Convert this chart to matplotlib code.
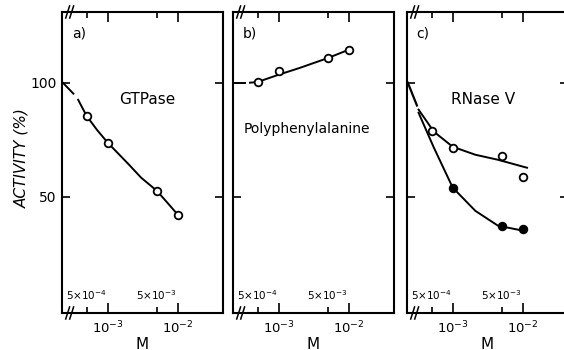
import matplotlib.pyplot as plt
from matplotlib.ticker import FixedLocator, NullFormatter
from matplotlib.transforms import blended_transform_factory

# measured points (concentration M, activity %)
conc = [5e-4, 1e-3, 5e-3, 1e-2]
gtpase = [85.5, 73.7, 52.6, 42]
polyphe = [100.3, 105, 110.8, 114.5]
rnase_open = [79, 71.5, 68, 58.8]
rnase_filled_x = [1e-3, 5e-3, 1e-2]
rnase_filled = [54, 37, 36]

# hand-drawn curves
a_curve_x = [3.8e-4, 5e-4, 7e-4, 1e-3, 2e-3, 3e-3, 5e-3, 7e-3, 1e-2]
a_curve_y = [92.5, 85.5, 79.4, 73.7, 64.1, 58.3, 52.6, 47.5, 42]
b_curve_x = [3.9e-4, 5e-4, 1e-3, 2e-3, 5e-3, 1e-2]
b_curve_y = [100, 100.3, 103.5, 106.5, 110.8, 114.5]
c_open_x = [3.27e-4, 5.4e-4, 1e-3, 2.1e-3, 4.4e-3, 1.14e-2]
c_open_y = [88.2, 78.5, 71.9, 68.4, 66.2, 62.7]
c_fill_x = [3.27e-4, 5.4e-4, 1e-3, 2.1e-3, 4.4e-3, 1e-2]
c_fill_y = [86.8, 71.5, 54, 43.8, 37.3, 35.1]

# control (no salt) segment before the axis break
a_pre_x = [2.3e-4, 3.25e-4]
a_pre_y = [100, 95.2]
b_pre_x = [2.3e-4, 3.3e-4]
b_pre_y = [100, 100]
c_pre_x = [2.3e-4, 3.1e-4]
c_pre_y = [100, 90]

XLIM = (10 ** -3.65, 10 ** -1.36)
YLIM = (-1, 131)

fig = plt.figure(figsize=(5.64, 3.5), dpi=100)
lefts = [62 / 564, 233 / 564, 407 / 564]
axes = [fig.add_axes([l, 1 - 313 / 350, 161 / 564, 301 / 350]) for l in lefts]

for i, ax in enumerate(axes):
    ax.set_xscale('log')
    ax.set_xlim(*XLIM)
    ax.set_ylim(*YLIM)
    ax.xaxis.set_major_locator(FixedLocator([1e-3, 1e-2]))
    ax.xaxis.set_minor_locator(FixedLocator([5e-4, 5e-3]))
    ax.xaxis.set_minor_formatter(NullFormatter())
    ax.set_yticks([50, 100])
    ax.tick_params(which='both', direction='in', top=True, right=True,
                   width=1.2, labelsize=9.5, pad=5)
    ax.tick_params(which='major', length=7)
    ax.tick_params(which='minor', length=4.5)
    ax.tick_params(axis='y', length=6)
    if i > 0:
        ax.set_yticklabels([])
    else:
        ax.tick_params(axis='y', labelsize=10, pad=4)
    for sp in ax.spines.values():
        sp.set_linewidth(1.5)
    ax.set_xlabel('M', fontsize=11, labelpad=0)
    tr = blended_transform_factory(ax.transData, ax.transAxes)
    ax.text(5e-4, 0.035, '5×10$^{-4}$', transform=tr, ha='center', va='bottom', fontsize=7.5)
    ax.text(5e-3, 0.035, '5×10$^{-3}$', transform=tr, ha='center', va='bottom', fontsize=7.5)
    # axis break marks
    for yb in (0, 1):
        for dx in (0.035, 0.06):
            ax.plot([dx - 0.012, dx + 0.012], [yb - 0.02, yb + 0.02], color='black',
                    lw=1.1, transform=ax.transAxes, clip_on=False)

ax_a, ax_b, ax_c = axes
mk = dict(marker='o', ms=5.5, mew=1.3, color='black', ls='none')

ax_a.plot(a_pre_x, a_pre_y, color='black', lw=1.4)
ax_a.plot(a_curve_x, a_curve_y, color='black', lw=1.4)
ax_a.plot(conc, gtpase, mfc='white', **mk)
ax_a.text(0.06, 0.93, 'a)', transform=ax_a.transAxes, fontsize=10, va='center')
ax_a.text(0.53, 0.71, 'GTPase', transform=ax_a.transAxes, fontsize=11, ha='center', va='center')

ax_b.plot(b_pre_x, b_pre_y, color='black', lw=1.4)
ax_b.plot(b_curve_x, b_curve_y, color='black', lw=1.4)
ax_b.plot(conc, polyphe, mfc='white', **mk)
ax_b.text(0.06, 0.93, 'b)', transform=ax_b.transAxes, fontsize=10, va='center')
ax_b.text(0.46, 0.61, 'Polyphenylalanine', transform=ax_b.transAxes, fontsize=10,
          ha='center', va='center')

ax_c.plot(c_pre_x, c_pre_y, color='black', lw=1.6)
ax_c.plot(c_open_x, c_open_y, color='black', lw=1.4)
ax_c.plot(c_fill_x, c_fill_y, color='black', lw=1.4)
ax_c.plot(conc, rnase_open, mfc='white', **mk)
ax_c.plot(rnase_filled_x, rnase_filled, mfc='black', **mk)
ax_c.text(0.06, 0.93, 'c)', transform=ax_c.transAxes, fontsize=10, va='center')
ax_c.text(0.47, 0.71, 'RNase V', transform=ax_c.transAxes, fontsize=11, ha='center', va='center')

fig.text(22 / 564, 1 - 158 / 350, 'ACTIVITY (%)', rotation=90, fontsize=11,
         style='italic', ha='center', va='center')

fig.savefig('out.png', dpi=100)
